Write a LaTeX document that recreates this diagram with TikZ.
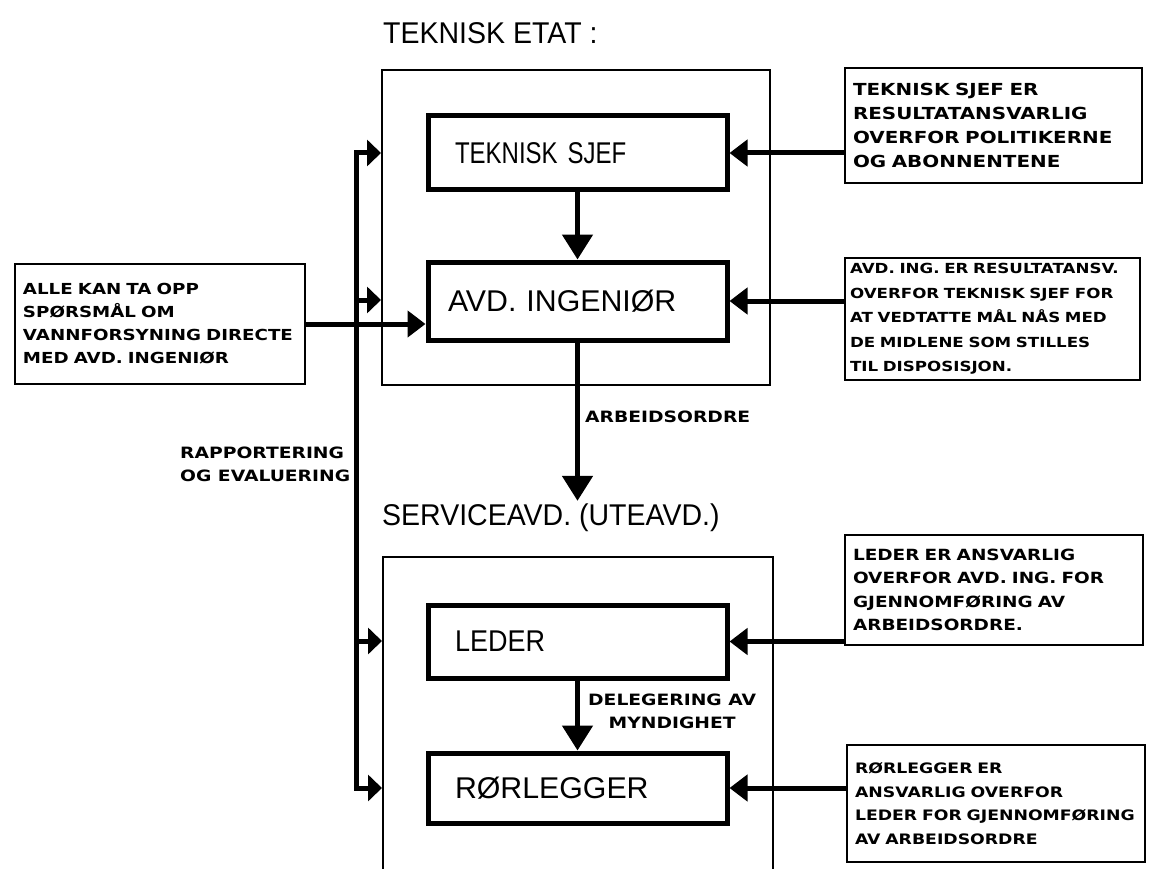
\documentclass[tikz,border=0pt]{standalone}
\usepackage{fontspec}
\setmainfont{DejaVu Sans}
% lettering: a tall grotesk for headings and units, a wide bold one for notes
\newfontfamily\headfont[FakeStretch=0.95]{Liberation Sans}
\newfontfamily\unitnarrow[FakeStretch=0.8]{Liberation Sans}
\newfontfamily\unitmid[FakeStretch=0.9]{Liberation Sans}
\newfontfamily\unitwide[FakeStretch=1.01]{Liberation Sans}
\newfontfamily\notefont[FakeStretch=1.2]{DejaVu Sans}
\usetikzlibrary{arrows.meta}

\newcommand{\notesize}[2]{\notefont\bfseries\fontsize{#1}{#2}\selectfont}
\newcommand{\unitsize}{\fontsize{30}{32}\selectfont}

\begin{document}
\begin{tikzpicture}[x=1pt,y=-1pt,
  unitbox/.style={draw, line width=5pt, minimum width=299pt, inner xsep=27pt,
    text width=245pt, align=left},
  dept/.style={draw, line width=2pt, minimum width=388pt, minimum height=315pt},
  note/.style={draw, line width=2pt, inner xsep=8pt, inner ysep=2pt, align=left},
  heading/.style={font=\headfont\fontsize{30}{32}\selectfont, anchor=west, inner sep=0pt},
  flowlabel/.style={font=\notesize{15.6}{23}, inner sep=0pt},
  flow/.style={line width=5pt, -{Triangle[length=25pt,width=30pt]}},
  feed/.style={line width=5pt, -{Triangle[length=18pt,width=26pt]}},
  tick/.style={line width=5pt, -{Triangle[length=14pt,width=26pt]}},
]
\useasboundingbox (0,0) rectangle (1161,869);

% department frames
\node[dept] (etat) at (576,227.5) {};
\node[dept, minimum width=390pt] (svc) at (578,714.5) {};
\node[heading] (etathead) at (383,33) {TEKNISK ETAT :};
\node[heading] (svchead) at (382,518) {SERVICEAVD. (UTEAVD.)};

% units
\node[unitbox, minimum height=74pt, font=\unitnarrow\unitsize] (sjef) at (577.5,153) {TEKNISK SJEF};
\node[unitbox, minimum height=78pt, font=\unitwide\unitsize, inner xsep=20pt, text width=259pt] (avd) at (577.5,301) {AVD. INGENIØR};
\node[unitbox, minimum height=73pt, font=\unitmid\unitsize] (leder) at (577.5,641.5) {LEDER};
\node[unitbox, minimum height=70pt, font=\unitwide\unitsize] (ror) at (577.5,788) {RØRLEGGER};

% responsibility notes
\node[note, minimum width=297pt, minimum height=115pt, text width=281pt, font=\notesize{16.6}{24}] (n1) at (993.5,125.5)
  {TEKNISK SJEF ER\\RESULTATANSVARLIG\\OVERFOR POLITIKERNE\\OG ABONNENTENE};
\node[note, minimum width=295pt, minimum height=122pt, inner xsep=5pt, text width=285pt, font=\notesize{13.9}{24.5}] (n2) at (992.5,319)
  {AVD. ING. ER RESULTATANSV.\\OVERFOR TEKNISK SJEF FOR\\AT VEDTATTE MÅL NÅS MED\\DE MIDLENE SOM STILLES\\TIL DISPOSISJON.};
\node[note, minimum width=298pt, minimum height=110pt, text width=282pt, font=\notesize{15.4}{23.5}] (n3) at (994,590)
  {LEDER ER ANSVARLIG\\OVERFOR AVD. ING. FOR\\GJENNOMFØRING AV\\ARBEIDSORDRE.};
\node[note, minimum width=298pt, minimum height=117pt, text width=282pt, font=\notesize{14.4}{23.5}] (n4) at (996,803.5)
  {RØRLEGGER ER\\ANSVARLIG OVERFOR\\LEDER FOR GJENNOMFØRING\\AV ARBEIDSORDRE};
\node[note, minimum width=290pt, minimum height=120pt, text width=274pt, font=\notesize{15.2}{23}] (alle) at (160,324)
  {ALLE KAN TA OPP\\SPØRSMÅL OM\\VANNFORSYNING DIRECTE\\MED AVD. INGENIØR};

% flow labels
\node[flowlabel, anchor=west] (ordre) at (585,417) {ARBEIDSORDRE};
\node[flowlabel, anchor=west, align=center] (deleg) at (588,711) {DELEGERING AV\\MYNDIGHET};
\node[flowlabel, anchor=west, align=left] (rapp) at (180,464) {RAPPORTERING\\OG EVALUERING};

% chain of command
\draw[flow] (sjef.south) -- (avd.north);
\draw[flow] (avd.south) -- ([yshift=3pt]avd.south |- svchead.north);
\draw[flow] (leder.south) -- (ror.north);

% responsibility arrows
\draw[feed] (n1.west |- sjef.east) -- (sjef.east);
\draw[feed] (n2.west |- avd.east) -- (avd.east);
\draw[feed] (n3.west |- leder.east) -- (leder.east);
\draw[feed] (n4.west |- ror.east) -- (ror.east);
\draw[feed] (alle.east) -- (alle.east -| avd.west);

% reporting rail
\coordinate (r1) at (356,153);
\coordinate (r2) at (356,300);
\coordinate (r3) at (356,641);
\coordinate (r4) at (356,788);
\draw[line width=5pt, {Triangle[length=14pt,width=26pt]}-{Triangle[length=14pt,width=26pt]}]
  (r1 -| etat.west) -- (r1) -- (r4) -- (r4 -| svc.west);
\draw[tick] (r2) -- (r2 -| etat.west);
\draw[tick] (r3) -- (r3 -| svc.west);
\end{tikzpicture}
\end{document}
